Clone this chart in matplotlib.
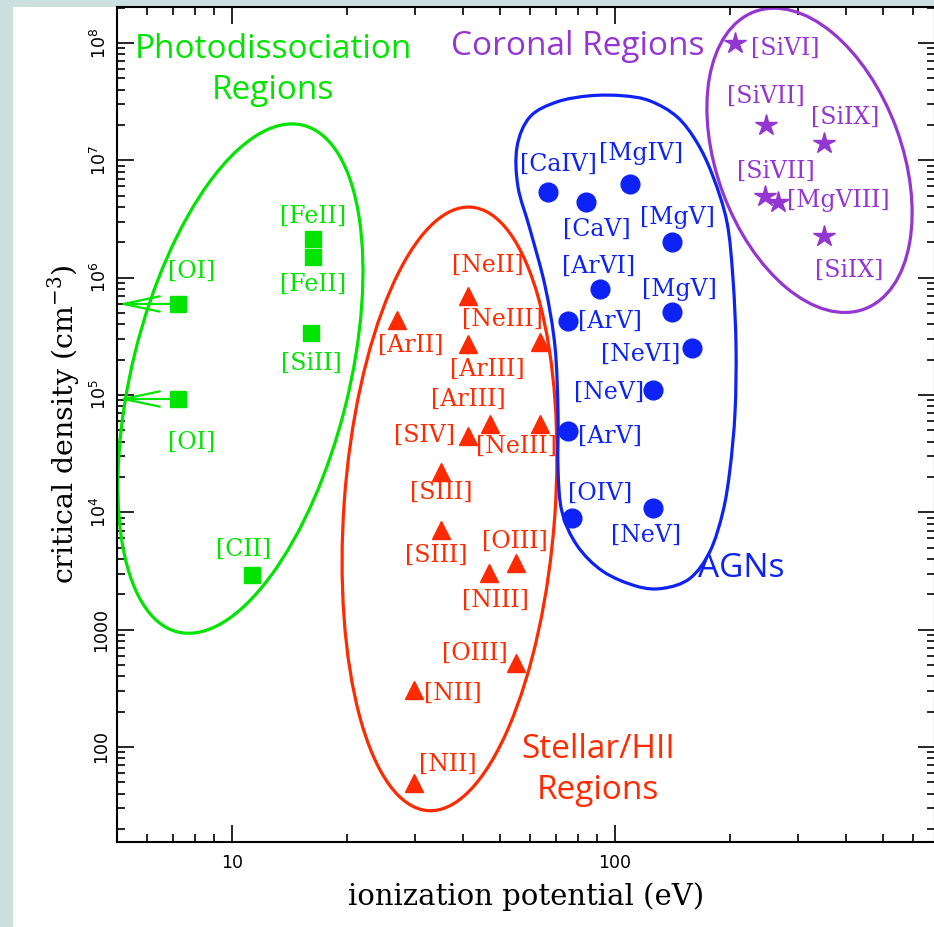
import numpy as np
import matplotlib
matplotlib.use("Agg")
import matplotlib.pyplot as plt
from matplotlib.patches import Ellipse, PathPatch, Rectangle
from matplotlib.path import Path
from matplotlib.transforms import ScaledTranslation

# critical density vs ionization potential of fine-structure lines

# photodissociation regions (squares)
pdr_names = ['[OI]', '[FeII]', '[FeII]', '[SiII]', '[OI]', '[CII]']
pdr_ip = [7.23, 16.27, 16.27, 16.07, 7.23, 11.28]
pdr_ncrit = [5.97e5, 2.14e6, 1.50e6, 3.37e5, 9.25e4, 2920]
pdr_limit = [True, False, False, False, True, False]

# stellar / HII regions (triangles)
hii_names = ['[NeII]', '[ArII]', '[ArIII]', '[NeIII]', '[SIV]', '[ArIII]', '[NeIII]',
             '[SIII]', '[SIII]', '[NIII]', '[OIII]', '[OIII]', '[NII]', '[NII]']
hii_ip = [41.3, 27.0, 41.3, 63.7, 41.3, 47.2, 63.7, 35.2, 35.2, 46.9, 55.1, 55.1, 29.9, 29.9]
hii_ncrit = [6.95e5, 4.35e5, 2.72e5, 2.83e5, 4.5e4, 5.68e4, 5.68e4,
             2.21e4, 7070, 3040, 3700, 520, 306, 49.3]

# AGN lines (circles)
agn_names = ['[CaIV]', '[CaV]', '[MgIV]', '[MgV]', '[ArVI]', '[MgV]', '[ArV]',
             '[NeVI]', '[NeV]', '[ArV]', '[OIV]', '[NeV]']
agn_ip = [66.8, 84.0, 109.4, 141, 91.4, 141, 75.3, 158.9, 125.6, 75.3, 77.3, 125.6]
agn_ncrit = [5.42e6, 4.38e6, 6.34e6, 2.0e6, 7.96e5, 5.08e5, 4.27e5,
             2.51e5, 1.10e5, 4.96e4, 8960, 1.09e4]

# coronal lines (stars)
cor_names = ['[SiVI]', '[SiVII]', '[SiIX]', '[SiVII]', '[MgVIII]', '[SiIX]']
cor_ip = [205.6, 247.7, 351.6, 246.7, 266.5, 351.6]
cor_ncrit = [1.0e8, 2.01e7, 1.41e7, 4.92e6, 4.45e6, 2.25e6]

# label offsets (pixels) from each point
pdr_off = [(14, 33), (0, 23), (0, -27), (0, -30), (14, -43), (-8, 26)]
hii_off = [(20, 31), (13, -25), (19, -25), (-38, 23), (-43, 0), (-22, 24), (-24, -23),
           (0, -20), (-5, -25), (6, -27), (-1, 22), (-41, 10), (39, -3), (34, 19)]
agn_off = [(11, 27), (11, -27), (11, 30), (5, 25), (-1, 23), (7, 23), (42, 0),
           (-51, -6), (-44, -2), (42, -6), (28, 25), (-7, -27)]
cor_off = [(50, -5), (0, 28), (21, 26), (11, 25), (60, 1), (25, -34)]

# AGN outline (eV, cm^-3)
agn_outline_x = [55.5, 60.0, 70.6, 86.1, 104.9, 123.4, 145.2, 163.8, 180.3, 196.1,
                 203.3, 207.0, 205.8, 199.7, 191.4, 177.0, 157.0, 133.5, 114.1, 93.0,
                 79.6, 72.7, 71.0, 71.0, 69.7, 65.7, 60.0, 55.8]
agn_outline_y = [1.307e7, 2.35e7, 3.15e7, 3.55e7, 3.55e7, 3.21e7, 2.35e7, 1.414e7,
                 7.27e6, 2.956e6, 9.69e5, 2.61e5, 7.18e4, 2.356e4, 1.016e4, 4645,
                 2739, 2252, 2342, 3141, 5223, 1.016e4, 2.356e4, 7.18e4, 2.61e5,
                 8.45e5, 2.58e6, 5.98e6]

green = '#00e400'
red = '#ff2a00'
blue = '#0d22f5'
purple = '#9436d2'
teal = '#cde0e0'

W, H = 934, 927
fig = plt.figure(figsize=(W / 100, H / 100), dpi=100, facecolor=teal)
fig.add_artist(Rectangle((13 / W, 0), 1, (H - 7) / H, transform=fig.transFigure,
                         facecolor='white', edgecolor='none', zorder=-5))
ax = fig.add_axes([117 / W, (H - 842) / H, (935 - 117) / W, (842 - 7) / H])
ax.set_xscale('log')
ax.set_yscale('log')
ax.set_xlim(5.01, 684.7)
ax.set_ylim(15.5, 2.027e8)

for s in ax.spines.values():
    s.set_linewidth(1.5)
ax.tick_params(which='both', direction='in', top=True, right=True, width=1.2)
ax.tick_params(which='major', length=12)
ax.tick_params(which='minor', length=6)

ax.set_xticks([10, 100])
ax.set_xticklabels(['10', '100'], fontsize=12.5)
ax.tick_params(axis='x', pad=9)
yt = [100, 1000, 1e4, 1e5, 1e6, 1e7, 1e8]
ylab = ['100', '1000'] + [r'$\mathregular{10^{%d}}$' % k for k in range(4, 9)]
ax.set_yticks(yt)
ax.set_yticklabels(ylab, fontsize=12.5, rotation=90, va='center')
ax.tick_params(axis='y', pad=5)

ax.set_xlabel('ionization potential (eV)', fontsize=21, family='DejaVu Serif', labelpad=7)
ax.set_ylabel(r'critical density (cm$^{\mathregular{-3}}$)', fontsize=20.5,
              family='DejaVu Serif', labelpad=6)


def ellipse(cx, cy, w, h, ang, color):
    tr = fig.dpi_scale_trans + ScaledTranslation(cx, cy, ax.transData)
    ax.add_patch(Ellipse((0, 0), w, h, angle=ang, transform=tr, fill=False,
                         edgecolor=color, lw=2.3, zorder=2))


ellipse(10.52, 1.38e5, 5.22, 2.17, 76.1, green)
ellipse(36.98, 1.07e4, 6.05, 2.11, 85.9, red)
ellipse(322, 1.0e7, 3.17, 1.85, -69.8, purple)

# smooth closed outline around the AGN lines
P = np.column_stack([np.log10(agn_outline_x), np.log10(agn_outline_y)])
n = len(P)
verts = [P[0]]
codes = [Path.MOVETO]
for i in range(n):
    p0, p1, p2, p3 = P[i - 1], P[i], P[(i + 1) % n], P[(i + 2) % n]
    verts += [p1 + (p2 - p0) / 6, p2 - (p3 - p1) / 6, p2]
    codes += [Path.CURVE4] * 3
verts = 10 ** np.array(verts)
ax.add_patch(PathPatch(Path(verts, codes), fill=False, edgecolor=blue, lw=2.3, zorder=2))

groups = [
    (pdr_names, pdr_ip, pdr_ncrit, pdr_off, green, 's', 11.5),
    (hii_names, hii_ip, hii_ncrit, hii_off, red, '^', 13),
    (agn_names, agn_ip, agn_ncrit, agn_off, blue, 'o', 13.5),
    (cor_names, cor_ip, cor_ncrit, cor_off, purple, '*', 16),
]
for names, xs, ys, offs, col, mk, ms in groups:
    ax.plot(xs, ys, ls='none', marker=mk, ms=ms, color=col, mec=col, zorder=4)
    for name, x, y, (dx, dy) in zip(names, xs, ys, offs):
        ax.annotate(name, (x, y), xytext=(dx, dy), textcoords='offset pixels',
                    ha='center', va='center', fontsize=17, color=col,
                    family='DejaVu Serif', zorder=5)

# upper limits for [OI]
for x, y, lim in zip(pdr_ip, pdr_ncrit, pdr_limit):
    if lim:
        ax.annotate('', xy=(5.05, y), xytext=(x, y),
                    arrowprops=dict(arrowstyle='->,head_length=2.6,head_width=0.55',
                                    color=green, lw=1.6, shrinkA=6, shrinkB=0), zorder=3)

tkw = dict(ha='center', va='center', fontsize=24, family='Open Sans', linespacing=1.3)
ax.text(12.8, 5.89e7, 'Photodissociation\nRegions', color=green, **tkw)
ax.text(80.1, 9.25e7, 'Coronal Regions', color=purple, **tkw)
ax.text(213, 3350, 'AGNs', color=blue, **tkw)
ax.text(90.3, 63.7, 'Stellar/HII\nRegions', color=red, **tkw)

fig.savefig('out.png', dpi=100, facecolor=teal)
